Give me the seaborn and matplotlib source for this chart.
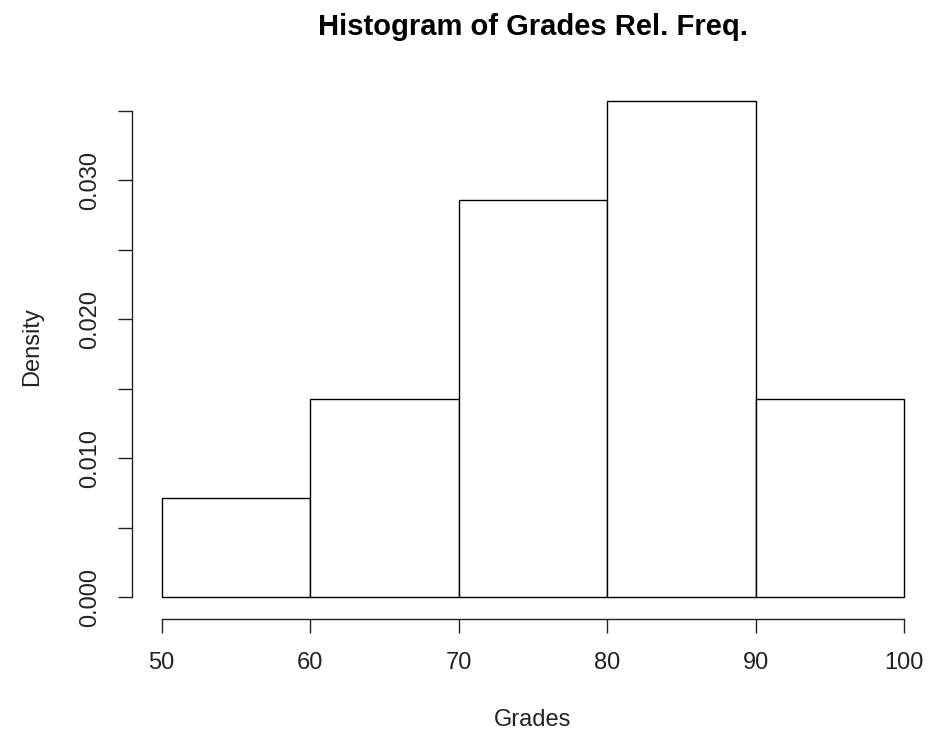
import numpy as np
import pandas as pd
import matplotlib
matplotlib.use("Agg")
import matplotlib.pyplot as plt
import seaborn as sns

# Data (counts per 10-point bin; density = count / (n * width))
bin_edges = [50, 60, 70, 80, 90, 100]
bin_mids = [55, 65, 75, 85, 95]
counts = [1, 2, 4, 5, 2]
x_ticks = [50, 60, 70, 80, 90, 100]
y_ticks = [0.000, 0.005, 0.010, 0.015, 0.020, 0.025, 0.030, 0.035]
y_labels = ["0.000", "", "0.010", "", "0.020", "", "0.030", ""]

sns.set_theme(style="white")
plt.rcParams['font.family'] = ['Liberation Sans', 'DejaVu Sans']

df = pd.DataFrame({"Grades": bin_mids, "w": counts})

W, H = 940, 734
fig = plt.figure(figsize=(W / 100, H / 100), dpi=100)
ax = fig.add_axes([132 / W, 1 - 617 / H, (934 - 132) / W, (617 - 81) / H])

sns.histplot(data=df, x="Grades", weights="w", bins=bin_edges, stat="density",
             fill=True, color="white", edgecolor="black", linewidth=1.0, alpha=1,
             ax=ax)

ax.set_xlim(48, 102)
ax.set_ylim(-0.0014286, 0.0371429)

for s in ["top", "right"]:
    ax.spines[s].set_visible(False)
ax.spines["left"].set_bounds(0, 0.035)
ax.spines["bottom"].set_bounds(50, 100)
ax.spines["bottom"].set_position(("outward", 1.5))
for s in ["left", "bottom"]:
    ax.spines[s].set_color("#222222")
    ax.spines[s].set_linewidth(1.0)

ax.set_xticks(x_ticks)
ax.set_xticklabels([str(v) for v in x_ticks])
ax.set_yticks(y_ticks)
ax.set_yticklabels(y_labels, rotation=90, va="center")
ax.tick_params(axis="both", which="major", length=10, width=1.0, color="#222222",
               labelsize=17, labelcolor="#222222", direction="out")
ax.tick_params(axis="x", pad=14, bottom=True)
ax.tick_params(axis="y", pad=12, left=True)

ax.set_xlabel("")
ax.set_ylabel("")
ax.grid(False)

fig.text(533 / W, 1 - 35 / H, "Histogram of Grades Rel. Freq.", ha="center",
         va="baseline", fontsize=21, fontweight="bold", color="black")
fig.text(533 / W, 1 - 720 / H, "Grades", ha="center", va="center", fontsize=17,
         color="#222222")
fig.text(32 / W, 1 - 347 / H, "Density", ha="center", va="center", fontsize=17,
         rotation=90, color="#222222")

fig.savefig("out.png", dpi=100, facecolor="white")
